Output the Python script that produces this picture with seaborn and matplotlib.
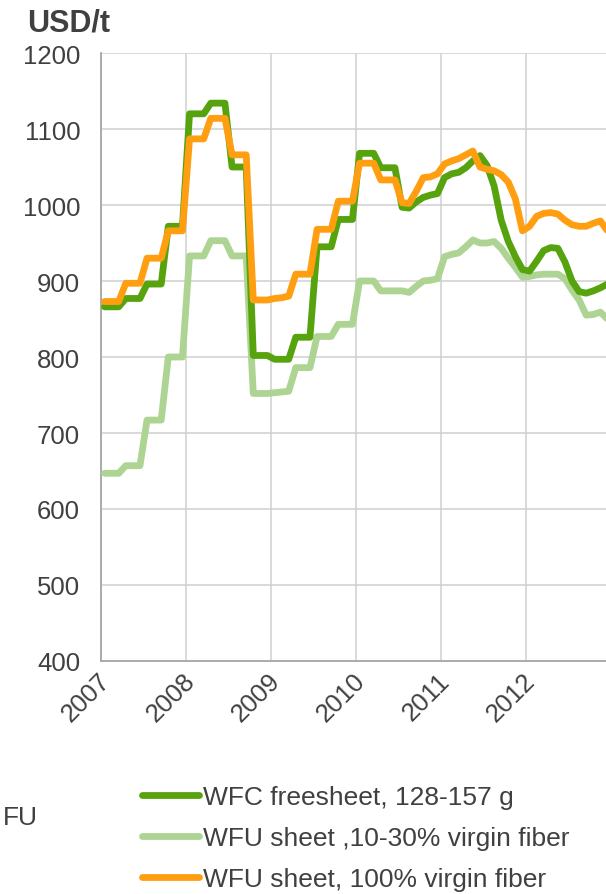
import numpy as np
import matplotlib
matplotlib.use("Agg")
import matplotlib.pyplot as plt
import matplotlib.transforms as mtrans
import seaborn as sns

# monthly prices, USD/t, Jan 2007 - Dec 2012
wfc = [
    866, 866, 866, 877, 877, 877, 896, 896, 896, 972, 972, 972,
    1120, 1120, 1120, 1134, 1134, 1134, 1050, 1050, 1050, 802, 802, 802,
    797, 797, 797, 826, 826, 826, 945, 945, 945, 981, 981, 981,
    1068, 1068, 1068, 1049, 1049, 1049, 997, 996, 1004, 1010, 1013, 1015,
    1036, 1041, 1043, 1049, 1058, 1065, 1052, 1025, 980, 952, 932, 915,
    913, 926, 940, 944, 943, 925, 900, 886, 884, 887, 891, 896,
]
wfu_low = [
    647, 647, 647, 657, 657, 657, 717, 717, 717, 800, 800, 800,
    933, 933, 933, 953, 953, 953, 933, 933, 933, 752, 752, 752,
    753, 754, 755, 786, 786, 786, 827, 827, 827, 843, 843, 843,
    900, 900, 900, 887, 887, 887, 887, 885, 893, 900, 901, 903,
    932, 935, 937, 945, 954, 950, 950, 952, 943, 930, 918, 905,
    906, 908, 909, 909, 909, 903, 888, 875, 855, 856, 859, 850,
]
wfu_100 = [
    873, 873, 873, 897, 897, 897, 930, 930, 930, 966, 966, 966,
    1087, 1087, 1087, 1114, 1114, 1114, 1066, 1066, 1066, 875, 875, 875,
    877, 878, 880, 909, 909, 909, 968, 968, 968, 1005, 1005, 1005,
    1055, 1055, 1055, 1033, 1033, 1033, 1003, 1002, 1018, 1036, 1037, 1041,
    1054, 1058, 1061, 1066, 1071, 1050, 1047, 1045, 1040, 1030, 1008, 966,
    972, 985, 989, 990, 988, 980, 974, 972, 972, 976, 979, 966,
]
labels = ["WFC freesheet, 128-157 g",
          "WFU sheet ,10-30% virgin fiber",
          "WFU sheet, 100% virgin fiber"]
years = [2007, 2008, 2009, 2010, 2011, 2012]

# mid-month positions
months = 2007 + (np.arange(len(wfc)) + 0.5) / 12

sns.set_style("white")
plt.rcParams["font.family"] = ["Liberation Sans", "DejaVu Sans"]
txt = "#404040"
grey = "#a6a6a6"

fig = plt.figure(figsize=(6.06, 8.95), dpi=100)
ax = fig.add_axes([101 / 606, 1 - 662 / 895, 505 / 606, 608 / 895])

lw = 4.9
sns.lineplot(x=months, y=wfu_low, ax=ax, color="#aed494", linewidth=lw,
             label=labels[1], zorder=3, solid_joinstyle="round")
sns.lineplot(x=months, y=wfc, ax=ax, color="#56a30e", linewidth=lw,
             label=labels[0], zorder=4, solid_joinstyle="round")
sns.lineplot(x=months, y=wfu_100, ax=ax, color="#ff9e10", linewidth=lw,
             label=labels[2], zorder=5, solid_joinstyle="round")

handles, labs = ax.get_legend_handles_labels()
if ax.get_legend() is not None:
    ax.get_legend().remove()
order = [labs.index(l) for l in labels]

ax.set_xlim(2007, 2007 + 505 / 85)
ax.set_ylim(400, 1200)
ax.set_yticks(range(400, 1201, 100))
ax.set_xticks(years)
ax.set_xticklabels([str(y) for y in years])
ax.set_xlabel("")
ax.set_ylabel("")

ax.grid(True, color="#cfcfcf", linewidth=1.1)
ax.set_axisbelow(True)
for s in ["top", "right"]:
    ax.spines[s].set_visible(False)
for s in ["left", "bottom"]:
    ax.spines[s].set_color(grey)
    ax.spines[s].set_linewidth(1.3)

ax.tick_params(axis="both", direction="out", length=6, width=1.2, color=grey,
               labelsize=18.5, labelcolor=txt)
ax.tick_params(axis="y", pad=9)
ax.tick_params(axis="x", pad=4)
# nudge rotated year labels a few pixels right/down
shift = mtrans.ScaledTranslation(5 / 100, -2 / 100, fig.dpi_scale_trans)
for t in ax.get_xticklabels():
    t.set_rotation(45)
    t.set_ha("right")
    t.set_va("center")
    t.set_rotation_mode("anchor")
    t.set_transform(t.get_transform() + shift)

fig.text(27 / 606, 1 - 31 / 895, "USD/t", fontsize=22, fontweight="bold",
         color=txt, va="baseline")
fig.text(3 / 606, 1 - 818 / 895, "FU", fontsize=19, color=txt, va="center")

leg = fig.legend([handles[i] for i in order], [labs[i] for i in order],
                 loc="upper left", bbox_to_anchor=(142 / 606, 1 - 786 / 895),
                 frameon=False, fontsize=19, handlelength=2.15,
                 handletextpad=0.15, labelspacing=0.65, borderpad=0,
                 borderaxespad=0)
for t in leg.get_texts():
    t.set_color(txt)
for h in leg.legend_handles:
    h.set_solid_capstyle("round")

fig.savefig("out.png", dpi=100)
